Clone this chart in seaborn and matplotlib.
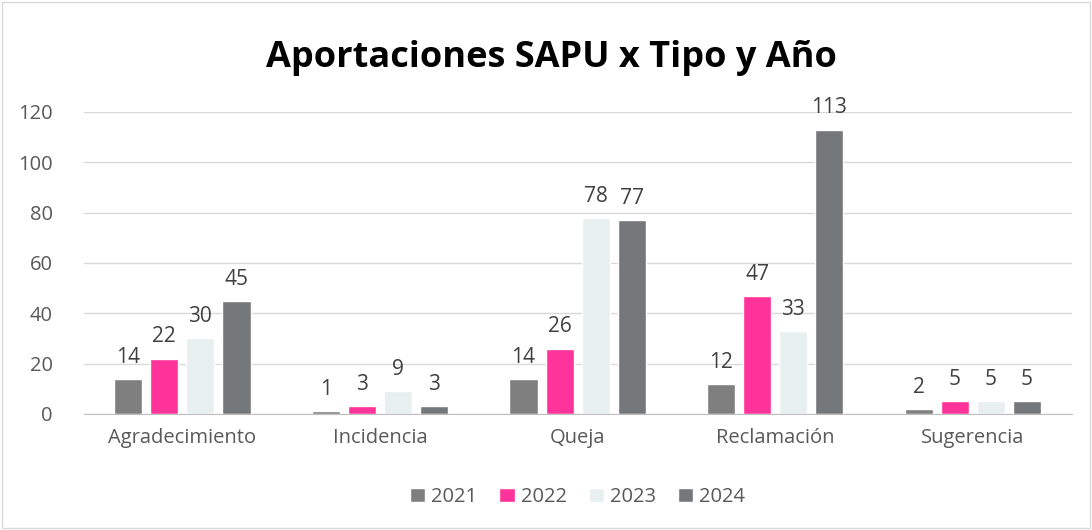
import matplotlib
matplotlib.use("Agg")
import matplotlib.pyplot as plt
import seaborn as sns
import pandas as pd
from matplotlib.patches import Rectangle

# Datos
tipos = ["Agradecimiento", "Incidencia", "Queja", "Reclamación", "Sugerencia"]
anios = ["2021", "2022", "2023", "2024"]
v2021 = [14, 1, 14, 12, 2]
v2022 = [22, 3, 26, 47, 5]
v2023 = [30, 9, 78, 33, 5]
v2024 = [45, 3, 77, 113, 5]
colores = ["#7F7F7F", "#FF3399", "#E7F0EE", "#75787B"]

rows = []
for anio, vals in zip(anios, [v2021, v2022, v2023, v2024]):
    for t, v in zip(tipos, vals):
        rows.append({"Tipo": t, "Año": anio, "Valor": v})
df = pd.DataFrame(rows)

sns.set_style("white")
plt.rcParams["font.family"] = ["Open Sans", "DejaVu Sans"]
txt = "#595959"

fig = plt.figure(figsize=(10.92, 5.30), dpi=100)
ax = fig.add_axes([0.0765, 0.219, 0.905, 0.5697])

sns.barplot(data=df, x="Tipo", y="Valor", hue="Año", order=tipos,
            hue_order=anios, palette=colores, width=0.73, gap=0.22,
            saturation=1, ax=ax, legend=True)

for cont in ax.containers:
    ax.bar_label(cont, padding=8, fontsize=15, color="#404040")

ax.set_ylim(0, 120)
ax.set_yticks(range(0, 121, 20))
ax.yaxis.grid(True, color="#D9D9D9", linewidth=1)
ax.set_axisbelow(True)
for s in ["top", "right", "left"]:
    ax.spines[s].set_visible(False)
ax.spines["bottom"].set_color("#BFBFBF")
ax.tick_params(axis="both", length=0, labelsize=14.5, labelcolor=txt, pad=10)
ax.tick_params(axis="y", pad=22)
ax.set_xlabel("")
ax.set_ylabel("")

ax.legend(loc="center", bbox_to_anchor=(0.5, -0.275), ncol=4, frameon=False,
          fontsize=14.5, labelcolor=txt, handlelength=0.75, handleheight=0.75,
          handletextpad=0.3, columnspacing=1.1)

fig.text(0.505, 0.89, "Aportaciones SAPU x Tipo y Año", ha="center",
         va="center", fontsize=26, fontweight="bold", color="black")

fig.patches.append(Rectangle((0.002, 0.003), 0.996, 0.994, transform=fig.transFigure,
                             fill=False, edgecolor="#D9D9D9", linewidth=1))

fig.savefig("out.png", dpi=100)
